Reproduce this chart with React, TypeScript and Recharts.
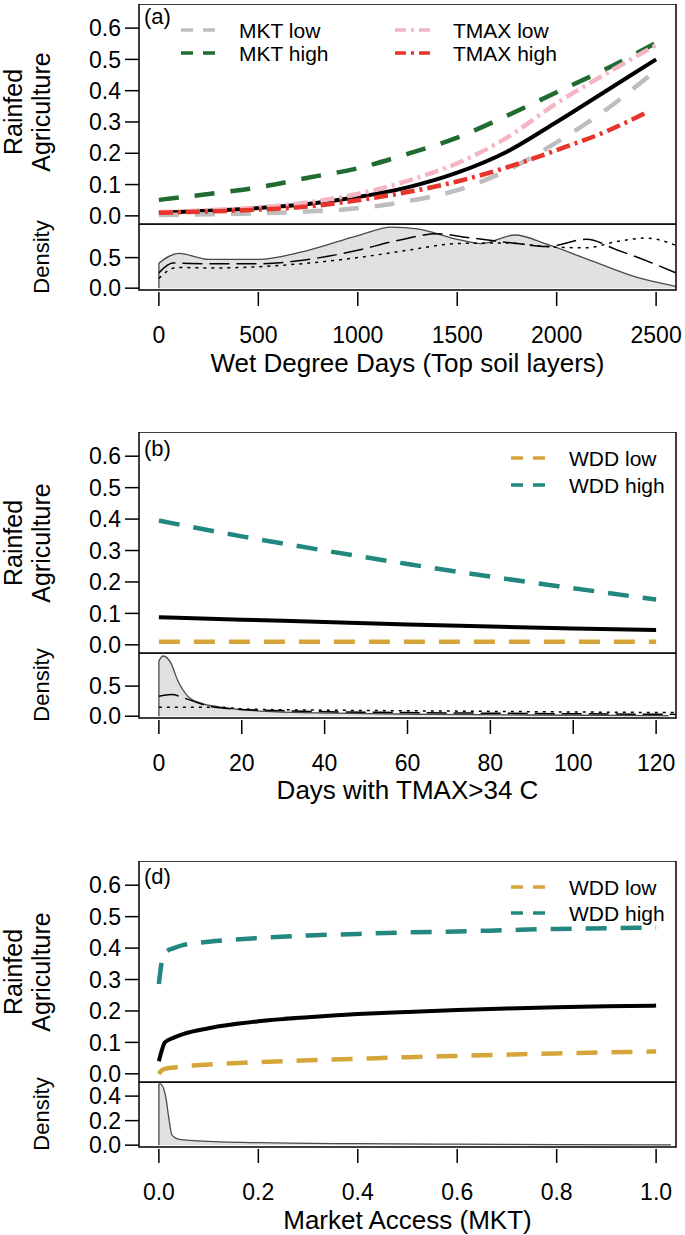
import React from "react";
import { ComposedChart, Line, Area, XAxis, YAxis, ReferenceArea } from "recharts";

const FONT = "'Liberation Sans', Arial, Helvetica, sans-serif";
const W = 685;

// ---- panel (a): wet degree days ----
const wddX = [0, 250, 500, 750, 1000, 1250, 1500, 1750, 2000, 2250, 2500];
const wddMean = [0.010, 0.016, 0.025, 0.038, 0.060, 0.091, 0.138, 0.205, 0.30, 0.40, 0.50];
const mktLowX = [0, 250, 500, 750, 1000, 1250, 1500, 1750, 2000, 2250, 2480];
const mktLow = [0.003, 0.005, 0.008, 0.014, 0.024, 0.047, 0.082, 0.145, 0.235, 0.34, 0.455];
const mktHigh = [0.051, 0.070, 0.091, 0.122, 0.152, 0.198, 0.25, 0.32, 0.395, 0.47, 0.553];
const tmaxLow = [0.012, 0.018, 0.027, 0.043, 0.070, 0.112, 0.168, 0.25, 0.36, 0.455, 0.546];
const tmaxHighX = [0, 250, 500, 750, 1000, 1250, 1500, 1750, 2000, 2250, 2450];
const tmaxHigh = [0.010, 0.014, 0.020, 0.030, 0.050, 0.076, 0.110, 0.155, 0.21, 0.27, 0.33];

const wddDensX = [0, 100, 250, 500, 750, 1000, 1170, 1300, 1500, 1620, 1790, 1950, 2150, 2400, 2600];
const wddDens = [0.41, 0.57, 0.47, 0.47, 0.62, 0.86, 1.0, 0.97, 0.80, 0.73, 0.87, 0.72, 0.48, 0.18, 0.03];
const wddDashX = [0, 70, 250, 500, 750, 1000, 1200, 1400, 1550, 1800, 1950, 2150, 2300, 2450, 2600];
const wddDash = [0.25, 0.41, 0.40, 0.40, 0.47, 0.62, 0.78, 0.89, 0.83, 0.73, 0.68, 0.80, 0.63, 0.45, 0.25];
const wddDotX = [0, 90, 250, 500, 750, 1000, 1250, 1500, 1750, 1950, 2150, 2300, 2450, 2600];
const wddDot = [0.16, 0.34, 0.33, 0.35, 0.41, 0.50, 0.62, 0.73, 0.74, 0.68, 0.66, 0.76, 0.82, 0.70];

// ---- panel (b): days with TMAX > 34 C ----
const tmaxX = [0, 20, 40, 60, 80, 100, 120];
const tmaxMean = [0.088, 0.080, 0.073, 0.065, 0.058, 0.052, 0.047];
const tmaxWddLow = [0.010, 0.010, 0.010, 0.010, 0.010, 0.010, 0.010];
const tmaxWddHigh = [0.395, 0.345, 0.300, 0.257, 0.217, 0.180, 0.144];

const tmaxDensX = [0, 1, 3, 4.5, 7, 10, 16, 26, 42, 66, 90, 123];
const tmaxDens = [0.92, 1.0, 0.87, 0.60, 0.33, 0.22, 0.14, 0.08, 0.05, 0.03, 0.02, 0.01];
const tmaxDashX = [0, 3, 7, 12, 18, 30, 60, 90, 124.8];
const tmaxDash = [0.33, 0.36, 0.28, 0.17, 0.12, 0.09, 0.06, 0.045, 0.03];
const tmaxDotX = [0, 15, 20, 40, 60, 80, 100, 124.8];
const tmaxDot = [0.15, 0.15, 0.12, 0.10, 0.09, 0.08, 0.07, 0.06];

// ---- panel (d): market access ----
const mktX = [0, 0.005, 0.012, 0.03, 0.05, 0.1, 0.2, 0.3, 0.4, 0.5, 0.6, 0.7, 0.8, 0.9, 1.0];
const mktMean = [0.040, 0.070, 0.100, 0.115, 0.127, 0.145, 0.167, 0.180, 0.190, 0.197, 0.203, 0.208, 0.212, 0.215, 0.217];
const mktWddLow = [0.000, 0.010, 0.016, 0.020, 0.024, 0.030, 0.037, 0.043, 0.048, 0.053, 0.057, 0.061, 0.065, 0.068, 0.071];
const mktWddHigh = [0.286, 0.350, 0.385, 0.400, 0.410, 0.420, 0.432, 0.440, 0.445, 0.450, 0.453, 0.457, 0.461, 0.463, 0.465];

const mktDensX = [0, 0.003, 0.013, 0.02, 0.026, 0.035, 0.045, 0.08, 0.2, 0.4, 0.6, 0.8, 1.03];
const mktDens = [0.50, 0.50, 0.41, 0.22, 0.085, 0.055, 0.045, 0.035, 0.02, 0.012, 0.008, 0.005, 0.002];

const mainTicks = [0, 0.1, 0.2, 0.3, 0.4, 0.5, 0.6];
const MAIN_Y: [number, number] = [-0.026, 0.677];

const GREY = "#bebebe";
const GREEN = "#1f6b30";
const PINK = "#f5b5c2";
const RED = "#e8352b";
const GOLD = "#d6a53a";
const TEAL = "#21877f";

type Pt = { x: number; y: number };
const zip = (xs: number[], ys: number[]): Pt[] => xs.map((x, i) => ({ x, y: ys[i] }));

type Series = {
  name?: string;
  xs: number[];
  ys: number[];
  color: string;
  width: number;
  dash?: string;
  legendDash?: string;
};

type PanelProps = {
  top: number;
  mid: number;
  bottom: number;
  xDomain: [number, number];
  xTicks: number[];
  xFmt: (v: number) => string;
  series: Series[];
  dens: { xs: number[]; ys: number[] };
  densLines: Series[];
  densDomain: [number, number];
  densTicks: number[];
};

const tickStyle = { fill: "#000", fontSize: 23, fontFamily: FONT };

function Panel(p: PanelProps) {
  const left = 139;
  const yw = 60;
  const pad = 16; // room under the main box so the 0.0 label is not clipped
  const densData = zip(p.dens.xs, p.dens.ys);
  const edge = [{ x: densData[0].x, y: 0 }, densData[0]];
  const bottomTick = (props: any) => {
    const { x, y, payload } = props;
    return (
      <g>
        <line x1={x} x2={x} y1={y + 2} y2={y + 16} stroke="#000" strokeWidth={1.5} />
        <text x={x} y={y + 45} textAnchor="middle" dominantBaseline="central" fontSize={23} fontFamily={FONT} fill="#000">
          {p.xFmt(payload.value)}
        </text>
      </g>
    );
  };
  return (
    <>
      <div style={{ position: "absolute", left: 0, top: p.top, width: W }}>
        <ComposedChart width={W} height={p.mid - p.top + pad} margin={{ top: 0, right: 9, bottom: pad, left: left - yw }}>
          <XAxis type="number" dataKey="x" domain={p.xDomain} allowDataOverflow hide />
          <YAxis
            type="number"
            domain={MAIN_Y}
            allowDataOverflow
            ticks={mainTicks}
            interval={0}
            width={yw}
            axisLine={false}
            tickSize={14}
            tickMargin={4}
            tickLine={{ stroke: "#000", strokeWidth: 1.5 }}
            tick={tickStyle}
            tickFormatter={(v: number) => v.toFixed(1)}
          />
          <ReferenceArea x1={p.xDomain[0]} x2={p.xDomain[1]} y1={MAIN_Y[0]} y2={MAIN_Y[1]} fill="none" stroke="#000" strokeWidth={1.5} />
          {p.series.map((s, i) => (
            <Line
              key={i}
              data={zip(s.xs, s.ys)}
              dataKey="y"
              type="monotone"
              stroke={s.color}
              strokeWidth={s.width}
              strokeDasharray={s.dash}
              dot={false}
              activeDot={false}
              isAnimationActive={false}
            />
          ))}
        </ComposedChart>
      </div>
      <div style={{ position: "absolute", left: 0, top: p.mid, width: W }}>
        <ComposedChart width={W} height={p.bottom - p.mid + 90} margin={{ top: 0, right: 9, bottom: 0, left: left - yw }}>
          <XAxis
            type="number"
            dataKey="x"
            domain={p.xDomain}
            allowDataOverflow
            ticks={p.xTicks}
            interval={0}
            height={90}
            axisLine={false}
            tickLine={false}
            tickSize={0}
            tickMargin={0}
            tick={bottomTick}
          />
          <YAxis
            type="number"
            domain={p.densDomain}
            allowDataOverflow
            ticks={p.densTicks}
            interval={0}
            width={yw}
            axisLine={false}
            tickSize={14}
            tickMargin={4}
            tickLine={{ stroke: "#000", strokeWidth: 1.5 }}
            tick={tickStyle}
            tickFormatter={(v: number) => v.toFixed(1)}
          />
          <Area
            data={densData}
            dataKey="y"
            type="monotone"
            baseValue={0}
            fill="#e0e1e3"
            fillOpacity={1}
            stroke="#4a4a4a"
            strokeWidth={1.3}
            dot={false}
            activeDot={false}
            isAnimationActive={false}
          />
          <Line data={edge} dataKey="y" type="linear" stroke="#4a4a4a" strokeWidth={1.3} dot={false} activeDot={false} isAnimationActive={false} />
          {p.densLines.map((s, i) => (
            <Line
              key={i}
              data={zip(s.xs, s.ys)}
              dataKey="y"
              type="monotone"
              stroke={s.color}
              strokeWidth={s.width}
              strokeDasharray={s.dash}
              dot={false}
              activeDot={false}
              isAnimationActive={false}
            />
          ))}
          <ReferenceArea x1={p.xDomain[0]} x2={p.xDomain[1]} y1={p.densDomain[0]} y2={p.densDomain[1]} fill="none" stroke="#000" strokeWidth={1.5} />
        </ComposedChart>
      </div>
    </>
  );
}

const densDash = "20 7";
const densDot = "3 5";

const panelA: Series[] = [
  { xs: wddX, ys: wddMean, color: "#000", width: 4 },
  { name: "MKT low", xs: mktLowX, ys: mktLow, color: GREY, width: 4.5, dash: "20 16", legendDash: "12 10" },
  { name: "MKT high", xs: wddX, ys: mktHigh, color: GREEN, width: 4.5, dash: "20 16", legendDash: "12 10" },
  { name: "TMAX low", xs: wddX, ys: tmaxLow, color: PINK, width: 4.5, dash: "14 5 3 5", legendDash: "11 5 3 5" },
  { name: "TMAX high", xs: tmaxHighX, ys: tmaxHigh, color: RED, width: 4.5, dash: "14 5 3 5", legendDash: "11 5 3 5" },
];

const panelB: Series[] = [
  { xs: tmaxX, ys: tmaxMean, color: "#000", width: 4 },
  { name: "WDD low", xs: tmaxX, ys: tmaxWddLow, color: GOLD, width: 4.5, dash: "21 14", legendDash: "12 10" },
  { name: "WDD high", xs: tmaxX, ys: tmaxWddHigh, color: TEAL, width: 4.5, dash: "21 14", legendDash: "12 10" },
];

const panelD: Series[] = [
  { xs: mktX, ys: mktMean, color: "#000", width: 4 },
  { name: "WDD low", xs: mktX, ys: mktWddLow, color: GOLD, width: 4.5, dash: "21 14", legendDash: "12 10" },
  { name: "WDD high", xs: mktX, ys: mktWddHigh, color: TEAL, width: 4.5, dash: "21 14", legendDash: "12 10" },
];

function LegendItem({ s, x, y }: { s: Series; x: number; y: number }) {
  return (
    <g>
      <line x1={x} x2={x + 38} y1={y} y2={y} stroke={s.color} strokeWidth={3.5} strokeDasharray={s.legendDash} />
      <text x={x + 58} y={y} dominantBaseline="central" fontSize={21} fontFamily={FONT} fill="#000">
        {s.name}
      </text>
    </g>
  );
}

function YTitle({ cy, dcy }: { cy: number; dcy: number }) {
  return (
    <g fontFamily={FONT} fill="#000" textAnchor="middle" dominantBaseline="central">
      <text transform={`translate(13, ${cy}) rotate(-90)`} fontSize={25}>Rainfed</text>
      <text transform={`translate(41, ${cy}) rotate(-90)`} fontSize={25}>Agriculture</text>
      <text transform={`translate(41, ${dcy}) rotate(-90)`} fontSize={22}>Density</text>
    </g>
  );
}

export default function App() {
  return (
    <div style={{ position: "absolute", left: 0, top: 0, width: W, height: 1235, background: "#fff", fontFamily: FONT }}>
      <Panel
        top={4}
        mid={224}
        bottom={290}
        xDomain={[-100, 2600]}
        xTicks={[0, 500, 1000, 1500, 2000, 2500]}
        xFmt={(v) => String(v)}
        series={panelA}
        dens={{ xs: wddDensX, ys: wddDens }}
        densLines={[
          { xs: wddDashX, ys: wddDash, color: "#000", width: 1.5, dash: densDash },
          { xs: wddDotX, ys: wddDot, color: "#000", width: 1.5, dash: densDot },
        ]}
        densDomain={[-0.03, 1.05]}
        densTicks={[0, 0.5]}
      />
      <Panel
        top={432}
        mid={653}
        bottom={718}
        xDomain={[-4.8, 124.8]}
        xTicks={[0, 20, 40, 60, 80, 100, 120]}
        xFmt={(v) => String(v)}
        series={panelB}
        dens={{ xs: tmaxDensX, ys: tmaxDens }}
        densLines={[
          { xs: tmaxDashX, ys: tmaxDash, color: "#000", width: 1.5, dash: densDash },
          { xs: tmaxDotX, ys: tmaxDot, color: "#000", width: 1.5, dash: densDot },
        ]}
        densDomain={[-0.03, 1.05]}
        densTicks={[0, 0.5]}
      />
      <Panel
        top={861}
        mid={1082}
        bottom={1147}
        xDomain={[-0.04, 1.04]}
        xTicks={[0, 0.2, 0.4, 0.6, 0.8, 1.0]}
        xFmt={(v) => v.toFixed(1)}
        series={panelD}
        dens={{ xs: mktDensX, ys: mktDens }}
        densLines={[]}
        densDomain={[-0.015, 0.515]}
        densTicks={[0, 0.2, 0.4]}
      />
      <svg width={W} height={1235} style={{ position: "absolute", left: 0, top: 0, pointerEvents: "none" }}>
        <YTitle cy={112} dcy={257} />
        <YTitle cy={543} dcy={685} />
        <YTitle cy={972} dcy={1114} />
        <g fontFamily={FONT} fill="#000" fontSize={22} dominantBaseline="central">
          <text x={144} y={16}>(a)</text>
          <text x={144} y={448}>(b)</text>
          <text x={144} y={876}>(d)</text>
        </g>
        <g fontFamily={FONT} fill="#000" fontSize={26} textAnchor="middle" dominantBaseline="central">
          <text x={407.5} y={363}>Wet Degree Days (Top soil layers)</text>
          <text x={407.5} y={790}>Days with TMAX&gt;34 C</text>
          <text x={407.5} y={1220}>Market Access (MKT)</text>
        </g>
        <LegendItem s={panelA[1]} x={181} y={30} />
        <LegendItem s={panelA[2]} x={181} y={53} />
        <LegendItem s={panelA[3]} x={395} y={30} />
        <LegendItem s={panelA[4]} x={395} y={53} />
        <LegendItem s={panelB[1]} x={511} y={458} />
        <LegendItem s={panelB[2]} x={511} y={485} />
        <LegendItem s={panelD[1]} x={511} y={887} />
        <LegendItem s={panelD[2]} x={511} y={913} />
      </svg>
    </div>
  );
}
